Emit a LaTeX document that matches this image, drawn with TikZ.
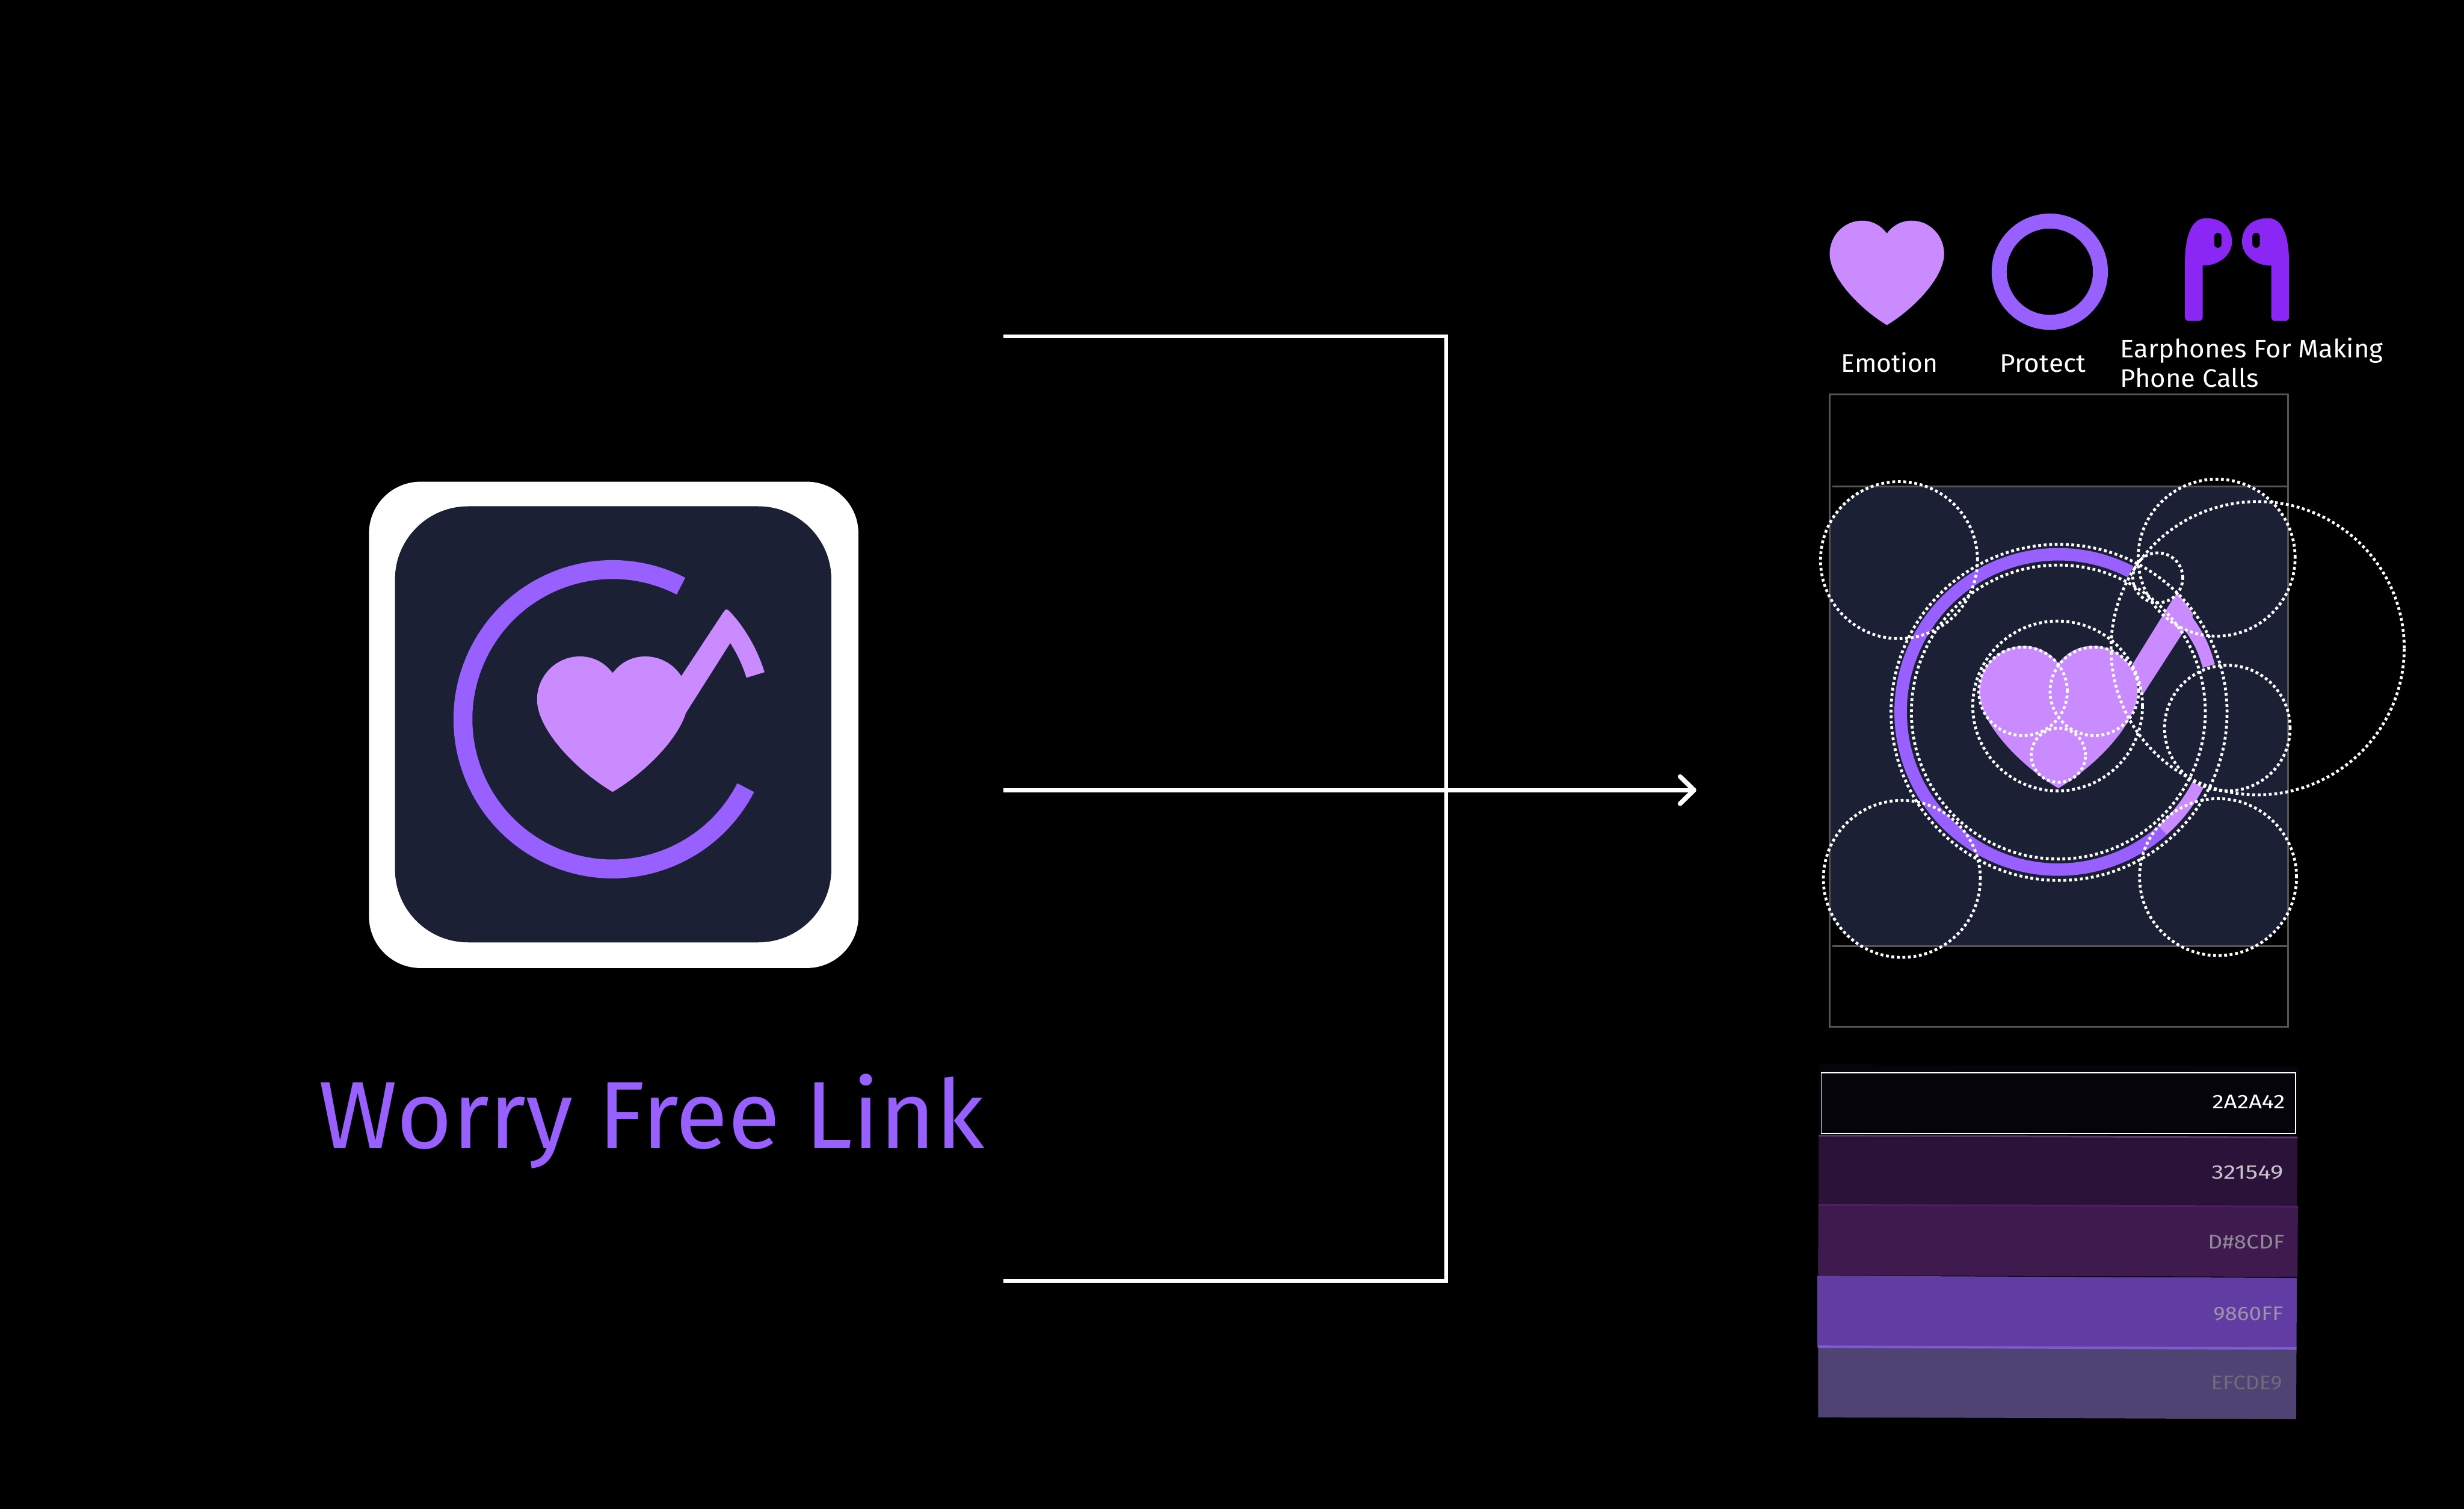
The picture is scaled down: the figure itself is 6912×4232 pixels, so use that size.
\documentclass[tikz,border=0pt]{standalone}
\usepackage{fontspec}
\setmainfont{Fira Sans}
\usepackage{graphicx}
\definecolor{navy}{HTML}{1B2035}
\definecolor{vio}{HTML}{9860FF}
\definecolor{lil}{HTML}{C98BFF}
\definecolor{ear}{HTML}{8B27F5}
\definecolor{frame}{HTML}{555555}
\definecolor{swa}{HTML}{04040A}
\definecolor{swb}{HTML}{2A1238}
\definecolor{swc}{HTML}{3F1A4E}
\definecolor{swd}{HTML}{603CA3}
\definecolor{swe}{HTML}{4F4374}
\definecolor{edgeb}{HTML}{553A6A}
\definecolor{edgec}{HTML}{4E1F66}
\definecolor{edgee}{HTML}{7C5CD0}
\definecolor{txb}{HTML}{C8C4CC}
\definecolor{txc}{HTML}{8F8A94}
\definecolor{txd}{HTML}{9C95A8}
\definecolor{txe}{HTML}{6F6B78}
\newcommand\fit[3]{\resizebox{#1}{#2}{\vphantom{H}\smash{#3}}}
\newcommand\heartpath{(0,-129.5) .. controls (-25,-162) and (-58,-176) .. (-91.5,-176) .. controls (-160,-176) and (-212,-120) .. (-212,-55) .. controls (-212,30) and (-100,145) .. (0,204) .. controls (100,145) and (212,30) .. (212,-55) .. controls (212,-120) and (160,-176) .. (91.5,-176) .. controls (58,-176) and (25,-162) .. (0,-129.5) -- cycle}
\newcommand\earpiece{\fill[ear,even odd rule] (6140,900) .. controls (6133,900) and (6129,895) .. (6129,888) -- (6129,740) .. controls (6129,680) and (6140,612) .. (6188,612) .. controls (6235,612) and (6261,640) .. (6261,678) .. controls (6261,715) and (6225,745) .. (6179,745) -- (6179,888) .. controls (6179,895) and (6175,900) .. (6168,900) -- cycle [rounded corners=0.1cm] (6211,653) rectangle (6232,695);}
\tikzset{
  lbl/.style={inner sep=0pt,anchor=base west,text=white},
  dotc/.style={draw=white,line width=0.08cm,dash pattern=on 0.08cm off 0.075cm},
  wire/.style={draw=white,line width=0.1cm},
  guide/.style={draw=frame,line width=0.05cm},
  swatch/.style={inner sep=0pt,anchor=base west}
}
\begin{document}
\begin{tikzpicture}[x=0.01cm,y=-0.01cm]
\useasboundingbox (0,0) rectangle (6912,4232);
\fill[black] (0,0) rectangle (6912,4232);
% left icon
\fill[white,rounded corners=1.45cm] (1035,1351) rectangle (2408,2715);
\fill[navy,rounded corners=2.05cm] (1108,1420) rectangle (2332,2643);
\begin{scope}[shift={(1718.5,2017)},x=0.01cm,y=0.01cm]
  \draw[vio,line width=0.53cm] (62.8:419.5) arc[start angle=62.8,end angle=332.8,radius=4.195cm];
  \begin{scope}[y=-0.01cm]
    \fill[lil] \heartpath;
  \end{scope}
  \fill[lil] (192,120) [rounded corners=0.1cm] -- (44.4:446) [sharp corners] arc[start angle=44.4,end angle=17.2,radius=4.46cm] -- (17.2:393) arc[start angle=17.2,end angle=32.9,radius=3.93cm] -- (206,18) -- cycle;
\end{scope}
\node[lbl,text=vio] (title) at (893,3220) {\fit{18.66cm}{1.84cm}{Worry Free Link}};
% connectors
\coordinate (ta) at (2815,943);
\coordinate (tb) at (4056,943);
\coordinate (bb) at (4056,3592);
\coordinate (ba) at (2815,3592);
\coordinate (ma) at (2815,2216);
\coordinate (mb) at (4752,2216);
\coordinate (h1) at (4713,2178);
\coordinate (h2) at (4713,2254);
\draw[wire,line join=miter] (ta) -- (tb) -- (bb) -- (ba);
\draw[draw=white,line width=0.12cm] (ma) -- (mb);
\draw[draw=white,line width=0.13cm,line cap=round,line join=round] (h1) -- (mb) -- (h2);
% top icons
\begin{scope}[shift={(5293,754.5)},x=0.00757cm,y=-0.0077cm]
  \fill[lil] \heartpath;
\end{scope}
\draw[vio,line width=0.42cm] (5750,762) circle[radius=1.42cm];
\earpiece
\begin{scope}[xshift=125.43cm,xscale=-1]\earpiece\end{scope}
\node[lbl] (emo) at (5164,1043) {\fit{2.72cm}{0.49cm}{Emotion}};
\node[lbl] (pro) at (5609,1043) {\fit{2.41cm}{0.49cm}{Protect}};
\node[lbl] (ear1) at (5947,1002.6) {\fit{7.37cm}{0.49cm}{Earphones For Making}};
\node[lbl] (ear2) at (5947,1086.6) {\fit{3.88cm}{0.49cm}{Phone Calls}};
% construction panel
\begin{scope}
  \clip (5135,1365) rectangle (6418,2654);
  \fill[navy,rounded corners=2.2cm] (5107,1347) rectangle (6440,2682);
\end{scope}
\draw[guide] (5133,1105.6) rectangle (6418,2880);
\draw[guide] (5140,1365) -- (6418,1365);
\draw[guide] (5140,2654) -- (6418,2654);
\begin{scope}[shift={(5774,1996.5)},x=0.01cm,y=0.01cm]
  \draw[vio,line width=0.35cm] (62.7:442) arc[start angle=62.7,end angle=311.3,radius=4.42cm];
  \draw[lil,line width=0.35cm] (311.3:442) arc[start angle=311.3,end angle=332.4,radius=4.42cm];
  \begin{scope}[x=0.0105cm,y=-0.0105cm]
    \fill[lil] \heartpath;
  \end{scope}
  \fill[lil] (204,126.5) -- (326,324.5) .. controls (330,329) and (333,330) .. (336,329.5) to[bend left=4] (378,274.5) -- (376,265.5) to[bend left=10] (439,133.5) -- (405,123.5) to[bend right=10] (354,229.5) -- (236,46.5) -- cycle;
\end{scope}
\draw[dotc] (5327,1571) circle[radius=2.2cm];
\draw[dotc] (6218,1564) circle[radius=2.2cm];
\draw[dotc] (5335,2465) circle[radius=2.2cm];
\draw[dotc] (6222,2460) circle[radius=2.2cm];
\draw[dotc] (6333,1818) circle[radius=4.11cm];
\draw[dotc] (6053,1620.6) circle[radius=0.7cm];
\draw[dotc] (6248,2042) circle[radius=1.76cm];
\draw[dotc] (5776,1998) circle[radius=4.71cm];
\draw[dotc] (5774,1997) circle[radius=4.12cm];
\draw[dotc] (5772,1980) circle[radius=2.38cm];
\draw[dotc] (5675,1939) circle[radius=1.24cm];
\draw[dotc] (5875,1939) circle[radius=1.24cm];
\draw[dotc] (5774,2118) circle[radius=0.76cm];
% palette
\fill[swa] (5103,2985) -- (6449,2990) -- (6447,3181) -- (5103,3183) -- cycle;
\fill[swb] (5102,3184) -- (6445,3190) -- (6443,3382) -- (5102,3377) -- cycle;
\fill[swc] (5101,3377) -- (6446,3383) -- (6445,3581) -- (5100,3577) -- cycle;
\fill[swd] (5098,3578) -- (6443,3584) -- (6442,3779) -- (5098,3779) -- cycle;
\fill[swe] (5100,3779) -- (6442,3784) -- (6441,3980) -- (5100,3975) -- cycle;
\draw[edgeb,line width=0.05cm] (5102,3185) -- (6445,3190);
\draw[edgec,line width=0.05cm] (5101,3379) -- (6446,3384);
\draw[edgee,line width=0.07cm] (5100,3777) -- (6442,3782);
\draw[white,line width=0.03cm] (5109,3009) rectangle (6439,3179);
\node[swatch,text=white] (s1) at (6205,3109) {\fit{2.04cm}{0.38cm}{2A2A42}};
\node[swatch,text=txb] (s2) at (6203,3306) {\fit{2.01cm}{0.38cm}{321549}};
\node[swatch,text=txc] (s3) at (6193,3502) {\fit{2.14cm}{0.38cm}{D\#8CDF}};
\node[swatch,text=txd] (s4) at (6208,3703) {\fit{1.96cm}{0.38cm}{9860FF}};
\node[swatch,text=txe] (s5) at (6202,3898) {\fit{1.99cm}{0.38cm}{EFCDE9}};
\end{tikzpicture}
\end{document}
